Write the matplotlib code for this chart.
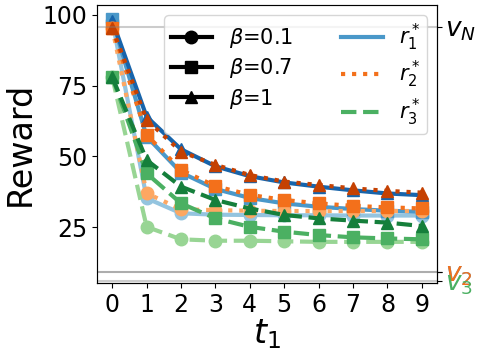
import matplotlib
matplotlib.use("Agg")
import matplotlib.pyplot as plt
from matplotlib.lines import Line2D
import numpy as np

t1 = list(range(10))
betas = ["0.1", "0.7", "1"]

r1_b01 = [98.0, 35.2, 29.9, 29.4, 29.3, 29.2, 29.2, 29.1, 29.1, 29.1]
r1_b07 = [98.5, 57.0, 44.3, 38.5, 35.3, 33.4, 32.2, 31.4, 30.8, 30.4]
r1_b1 = [98.0, 64.0, 52.5, 46.5, 43.0, 40.8, 39.3, 38.0, 36.9, 36.3]

r2_b01 = [95.4, 37.0, 31.3, 31.0, 30.8, 30.7, 30.7, 30.7, 30.7, 30.7]
r2_b07 = [95.4, 57.6, 45.2, 39.5, 36.4, 34.6, 33.4, 32.5, 32.0, 31.6]
r2_b1 = [95.4, 62.9, 51.7, 47.0, 43.4, 41.1, 39.9, 38.7, 37.8, 37.2]

r3_b01 = [78.0, 25.1, 20.7, 20.2, 20.2, 20.0, 19.8, 19.8, 19.8, 19.8]
r3_b07 = [78.0, 44.0, 33.4, 28.1, 25.1, 23.4, 22.2, 21.4, 21.0, 20.7]
r3_b1 = [78.0, 48.7, 39.3, 34.6, 31.6, 29.3, 28.1, 27.3, 26.6, 25.4]

v_N = 95.8
v_1 = 9.2
v_2 = 9.2
v_3 = 6.0

series = [
    ("Blues", "-", [r1_b01, r1_b07, r1_b1]),
    ("Oranges", ":", [r2_b01, r2_b07, r2_b1]),
    ("Greens", "--", [r3_b01, r3_b07, r3_b1]),
]
markers = ["o", "s", "^"]
shades = [0.4, 0.6, 0.8]

fig = plt.figure(figsize=(4.79, 3.57), dpi=100)
ax = fig.add_axes([0.202, 0.206, 0.711, 0.780])

for cmap_name, ls, data in series:
    cmap = plt.get_cmap(cmap_name)
    for vals, mk, sh in zip(data, markers, shades):
        ax.plot(t1, vals, linestyle=ls, marker=mk, color=cmap(sh), lw=3, ms=9)

for v in [v_N, v_1, v_2, v_3]:
    ax.axhline(v, color="gray", alpha=0.4, lw=1.5)

ax.set_xlim(-0.45, 9.45)
ax.set_ylim(5.1, 103.5)
ax.set_xticks(t1)
ax.set_yticks([25, 50, 75, 100])
ax.tick_params(labelsize=17)
ax.set_xlabel("$t_1$", fontsize=24, labelpad=0)
ax.set_ylabel("Reward", fontsize=24)
ax.spines["top"].set_color("#777777")
ax.spines["left"].set_color("#777777")

ax2 = ax.twinx()
ax2.set_ylim(ax.get_ylim())
ax2.set_yticks([v_N, v_1, v_2, v_3])
ax2.set_yticklabels(["$v_N$", "$v_1$", "$v_2$", "$v_3$"], fontsize=19)
label_colors = ["black", plt.get_cmap("Blues")(0.6), plt.get_cmap("Oranges")(0.6),
                plt.get_cmap("Greens")(0.6)]
for lab, c in zip(ax2.get_yticklabels(), label_colors):
    lab.set_color(c)
ax2.tick_params(pad=2)

handles = []
labels = []
for mk, b in zip(markers, betas):
    handles.append(Line2D([], [], color="black", marker=mk, lw=3, ms=9))
    labels.append(r"$\beta$=" + b)
for i, (cmap_name, ls, _) in enumerate(series):
    handles.append(Line2D([], [], color=plt.get_cmap(cmap_name)(0.6), ls=ls, lw=3))
    labels.append(r"$r_{%d}^*$" % (i + 1))
ax2.legend(handles, labels, ncol=2, loc="upper right", fontsize=15,
           handlelength=2.0, labelspacing=0.3, borderpad=0.3, columnspacing=2.3)

fig.savefig("out.png", dpi=100)
